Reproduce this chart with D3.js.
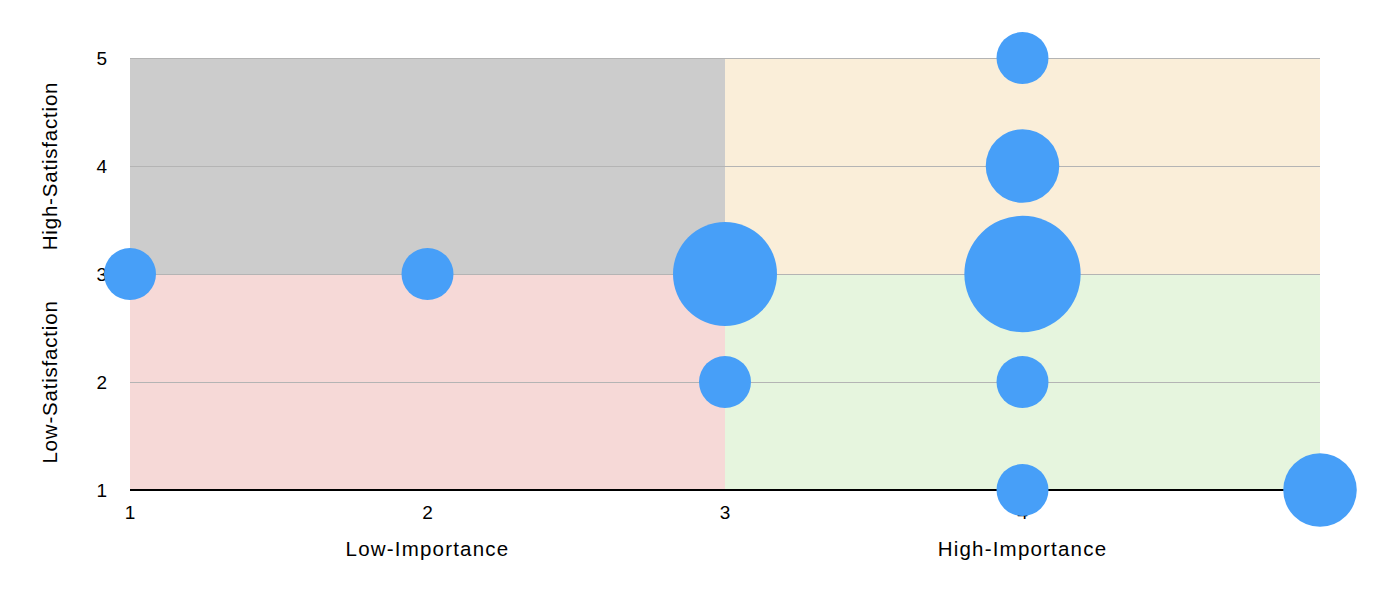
<!DOCTYPE html>
<html>
<head>
<meta charset="utf-8">
<script src="https://cdn.jsdelivr.net/npm/d3@7"></script>
<style>
  html, body { margin: 0; padding: 0; background: #fff; }
  svg { display: block; font-family: "Liberation Sans", Arial, Helvetica, sans-serif; }
</style>
</head>
<body>
<svg id="chart" width="1396" height="592"></svg>
<script>
// ---- data ----
const importance   = [1, 2, 3, 3, 4, 4, 4, 4, 4, 5];
const satisfaction = [3, 3, 3, 2, 5, 4, 3, 2, 1, 1];
const counts       = [1, 1, 4, 1, 1, 2, 5, 1, 1, 2];

const xTicks = [1, 2, 3, 4, 5];
const yTicks = [1, 2, 3, 4, 5];

const quadrantNames = ["HighSat-LowImp", "HighSat-HighImp", "LowSat-LowImp", "LowSat-HighImp"];
const quadrantX0 = [1, 3, 1, 3];
const quadrantX1 = [3, 5, 3, 5];
const quadrantY0 = [3, 3, 1, 1];
const quadrantY1 = [5, 5, 3, 3];
const quadrantColors = ["#cccccc", "#faeed9", "#f6d9d7", "#e6f5de"];

const xTitles = ["Low-Importance", "High-Importance"];
const xTitlePos = [2, 4];
const yTitles = ["High-Satisfaction", "Low-Satisfaction"];
const yTitlePos = [4, 2];

// ---- layout ----
const svg = d3.select("#chart");
const x = d3.scaleLinear().domain([1, 5]).range([130, 1320]);
const y = d3.scaleLinear().domain([1, 5]).range([490, 58]);
const r = d3.scaleSqrt().domain([0, 5]).range([0, 26 * Math.sqrt(5)]);

// quadrants
svg.append("g").selectAll("rect")
  .data(quadrantNames.map((n, i) => ({ n, i })))
  .join("rect")
  .attr("x", d => x(quadrantX0[d.i]))
  .attr("width", d => x(quadrantX1[d.i]) - x(quadrantX0[d.i]))
  .attr("y", d => y(quadrantY1[d.i]) + 1)
  .attr("height", d => y(quadrantY0[d.i]) - y(quadrantY1[d.i]) - 1)
  .attr("fill", d => quadrantColors[d.i]);

// gridlines
svg.append("g").selectAll("line")
  .data(yTicks.filter(t => t > 1))
  .join("line")
  .attr("x1", x(1)).attr("x2", x(5))
  .attr("y1", d => Math.round(y(d)) + 0.5).attr("y2", d => Math.round(y(d)) + 0.5)
  .attr("stroke", "#b4b4b4").attr("stroke-width", 1);

// x axis baseline
svg.append("line")
  .attr("x1", x(1)).attr("x2", x(5))
  .attr("y1", y(1)).attr("y2", y(1))
  .attr("stroke", "#000").attr("stroke-width", 2);

// x tick labels
svg.append("g").selectAll("text")
  .data(xTicks).join("text")
  .attr("x", d => x(d)).attr("y", 519)
  .attr("text-anchor", "middle")
  .attr("font-size", 19).attr("fill", "#000")
  .text(d => d);

// y tick labels
svg.append("g").selectAll("text")
  .data(yTicks).join("text")
  .attr("x", 107).attr("y", d => y(d))
  .attr("dy", "0.36em")
  .attr("text-anchor", "end")
  .attr("font-size", 19).attr("fill", "#000")
  .text(d => d);

// x titles
svg.append("g").selectAll("text")
  .data(xTitles).join("text")
  .attr("x", (d, i) => x(xTitlePos[i])).attr("y", 556)
  .attr("text-anchor", "middle")
  .attr("font-size", 20.5).attr("letter-spacing", 1.2).attr("fill", "#000")
  .text(d => d);

// y titles
svg.append("g").selectAll("text")
  .data(yTitles).join("text")
  .attr("transform", (d, i) => `translate(57,${y(yTitlePos[i])}) rotate(-90)`)
  .attr("text-anchor", "middle")
  .attr("font-size", 20.5).attr("letter-spacing", 0.8).attr("fill", "#000")
  .text(d => d);

// bubbles
svg.append("g").selectAll("circle")
  .data(counts.map((c, i) => ({ c, i })))
  .join("circle")
  .attr("cx", d => x(importance[d.i]))
  .attr("cy", d => y(satisfaction[d.i]))
  .attr("r", d => r(d.c))
  .attr("fill", "#479ff8");
</script>
</body>
</html>
